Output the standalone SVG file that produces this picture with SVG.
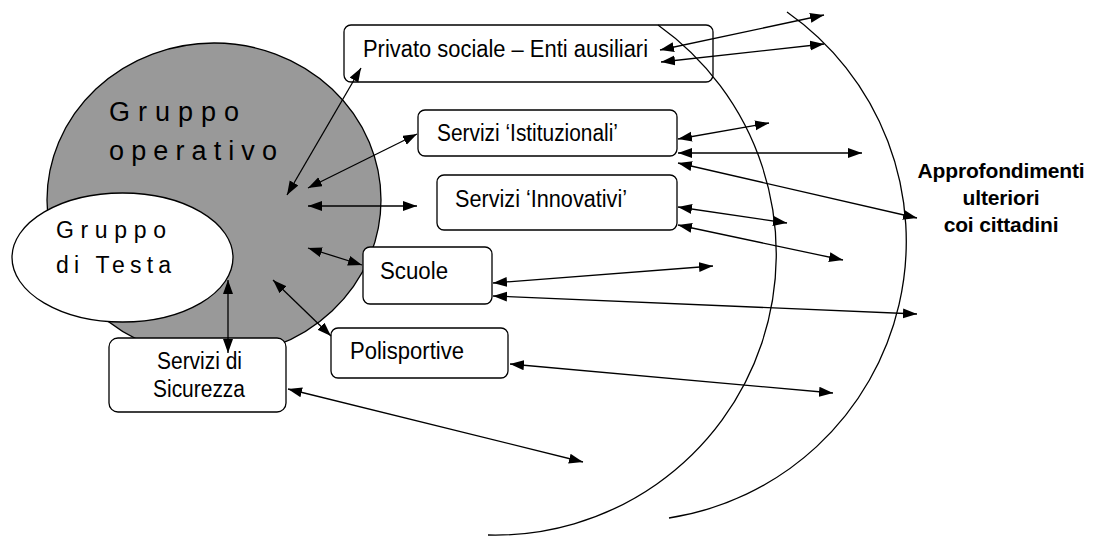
<svg xmlns="http://www.w3.org/2000/svg" width="1093" height="536" viewBox="0 0 1093 536">
<style>
.bg{fill:#ffffff}
.box{fill:#ffffff;stroke:#000;stroke-width:1.3}
.lbl{font-family:"Liberation Sans",Arial,sans-serif;font-size:23.5px;fill:#000}
.big{font-family:"Liberation Sans",Arial,sans-serif;fill:#000}
.bold{font-family:"Liberation Sans",Arial,sans-serif;font-size:21px;font-weight:bold;letter-spacing:-0.15px;text-anchor:middle;fill:#000}
.arc{fill:none;stroke:#000;stroke-width:1.3}
.con{fill:none;stroke:#000;stroke-width:1.3;marker-start:url(#ah);marker-end:url(#ah)}
</style>
<defs>
<marker id="ah" markerUnits="userSpaceOnUse" markerWidth="15" markerHeight="11" refX="14" refY="5" orient="auto-start-reverse">
<path d="M0,0 L14,5 L0,10 Z" fill="#000"/>
</marker>
</defs>
<rect class="bg" x="0" y="0" width="1093" height="536"/>
<g id="gruppo-operativo">
<ellipse cx="214" cy="200" rx="167" ry="157" fill="#999999" stroke="#000" stroke-width="1.3"/>
<text class="big" x="109" y="121" font-size="27" textLength="130">Gruppo</text>
<text class="big" x="109" y="160" font-size="27" textLength="168">operativo</text>
</g>
<g id="gruppo-di-testa">
<ellipse cx="122.5" cy="257.5" rx="110.5" ry="64.5" fill="#ffffff" stroke="#000" stroke-width="1.3"/>
<text class="big" x="56" y="238" font-size="23" textLength="110">Gruppo</text>
<text class="big" x="56" y="273" font-size="23" textLength="115">di Testa</text>
</g>
<g id="privato-sociale">
<rect class="box" x="344" y="25" width="369" height="57" rx="7"/>
<text class="lbl" x="363" y="57" textLength="285" lengthAdjust="spacingAndGlyphs">Privato sociale – Enti ausiliari</text>
</g>
<g id="servizi-istituzionali">
<rect class="box" x="418" y="110" width="259" height="46" rx="7"/>
<text class="lbl" x="437" y="141" textLength="181" lengthAdjust="spacingAndGlyphs">Servizi ‘Istituzionali’</text>
</g>
<g id="servizi-innovativi">
<rect class="box" x="437" y="175" width="240" height="55" rx="7"/>
<text class="lbl" x="455" y="207" textLength="172" lengthAdjust="spacingAndGlyphs">Servizi ‘Innovativi’</text>
</g>
<g id="scuole">
<rect class="box" x="363" y="247" width="129" height="57" rx="7"/>
<text class="lbl" x="380" y="279" textLength="68" lengthAdjust="spacingAndGlyphs">Scuole</text>
</g>
<g id="polisportive">
<rect class="box" x="331" y="328" width="177" height="50" rx="7"/>
<text class="lbl" x="350" y="359" textLength="114" lengthAdjust="spacingAndGlyphs">Polisportive</text>
</g>
<g id="servizi-sicurezza">
<rect class="box" x="109" y="338" width="177" height="74" rx="9"/>
<text class="lbl" x="157" y="369" textLength="85" lengthAdjust="spacingAndGlyphs">Servizi di</text>
<text class="lbl" x="153" y="397" textLength="92" lengthAdjust="spacingAndGlyphs">Sicurezza</text>
</g>
<g id="approfondimenti">
<path class="arc" d="M658 25 A281 281 0 0 1 488 535"/>
<path class="arc" d="M787 12 A280 280 0 0 1 669 518"/>
<text class="bold" x="1001" y="178">Approfondimenti</text>
<text class="bold" x="1001" y="205">ulteriori</text>
<text class="bold" x="1001" y="232">coi cittadini</text>
</g>
<g id="connectors">
<line class="con" x1="287" y1="195" x2="361" y2="68"/>
<line class="con" x1="308" y1="188" x2="417" y2="134"/>
<line class="con" x1="308" y1="206" x2="417" y2="206"/>
<line class="con" x1="308" y1="248" x2="362" y2="265"/>
<line class="con" x1="273" y1="280" x2="331" y2="336"/>
<line class="con" x1="228" y1="280" x2="228" y2="353"/>
<line class="con" x1="660" y1="50" x2="824" y2="15"/>
<line class="con" x1="661" y1="62" x2="824" y2="44"/>
<line class="con" x1="678" y1="139" x2="769" y2="123"/>
<line class="con" x1="678" y1="153" x2="862" y2="153"/>
<line class="con" x1="678" y1="163" x2="917" y2="218"/>
<line class="con" x1="678" y1="207" x2="787" y2="223"/>
<line class="con" x1="678" y1="225" x2="843" y2="260"/>
<line class="con" x1="493" y1="283" x2="713" y2="266"/>
<line class="con" x1="493" y1="296" x2="917" y2="314"/>
<line class="con" x1="510" y1="364" x2="833" y2="393"/>
<line class="con" x1="288" y1="389" x2="583" y2="462"/>
</g>
</svg>
